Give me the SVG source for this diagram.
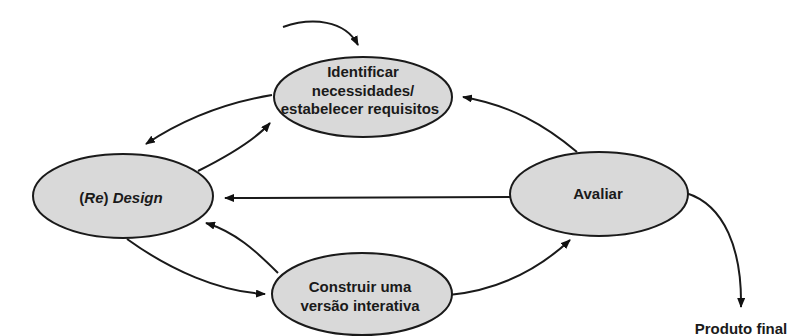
<svg xmlns="http://www.w3.org/2000/svg" width="789" height="336" viewBox="0 0 789 336">
<defs>
<marker id="ah" viewBox="0 0 10 8" refX="9" refY="4" markerWidth="10" markerHeight="8" markerUnits="userSpaceOnUse" orient="auto">
<path d="M0,0 L10,4 L0,8 z" fill="#111"/>
</marker>
<style>
.node ellipse{fill:#d9d9d9;stroke:#1a1a1a;stroke-width:2}
.lbl{font-family:"Liberation Sans",Arial,sans-serif;font-weight:bold;font-size:15px;fill:#1a1a1a;text-anchor:middle}
.conn path{fill:none;stroke:#1a1a1a;stroke-width:2;marker-end:url(#ah)}
</style>
</defs>
<rect width="789" height="336" fill="#ffffff"/>
<g id="connectors" class="conn">
<path d="M283,27 C312,17 345,20 358,45"/>
<path d="M272,95 C230,102 185,118 146,144"/>
<path d="M198,171 C230,155 255,140 270,123"/>
<path d="M577,152 C545,125 510,105 463,97"/>
<path d="M510,197 L225,198"/>
<path d="M278,273 C255,250 235,232 206,223"/>
<path d="M127,239 C170,270 220,292 265,294"/>
<path d="M449,295 C500,290 540,268 570,240"/>
<path d="M686,193 C725,205 742,250 741,307"/>
</g>
<g id="identificar" class="node">
<ellipse cx="363" cy="97" rx="89" ry="40"/>
<text class="lbl" x="363" y="77">Identificar</text>
<text class="lbl" x="363" y="96">necessidades/</text>
<text class="lbl" x="360" y="114">estabelecer requisitos</text>
</g>
<g id="redesign" class="node">
<ellipse cx="123" cy="196" rx="90" ry="42"/>
<text class="lbl" x="121" y="203" font-style="italic"><tspan font-style="normal">(</tspan>Re<tspan font-style="normal">)</tspan> Design</text>
</g>
<g id="construir" class="node">
<ellipse cx="362" cy="294" rx="90" ry="41"/>
<text class="lbl" x="360" y="292">Construir uma</text>
<text class="lbl" x="360" y="311">versão interativa</text>
</g>
<g id="avaliar" class="node">
<ellipse cx="599" cy="194" rx="89" ry="42"/>
<text class="lbl" x="598" y="199">Avaliar</text>
</g>
<g id="produto">
<text class="lbl" x="741" y="334">Produto final</text>
</g>
</svg>
